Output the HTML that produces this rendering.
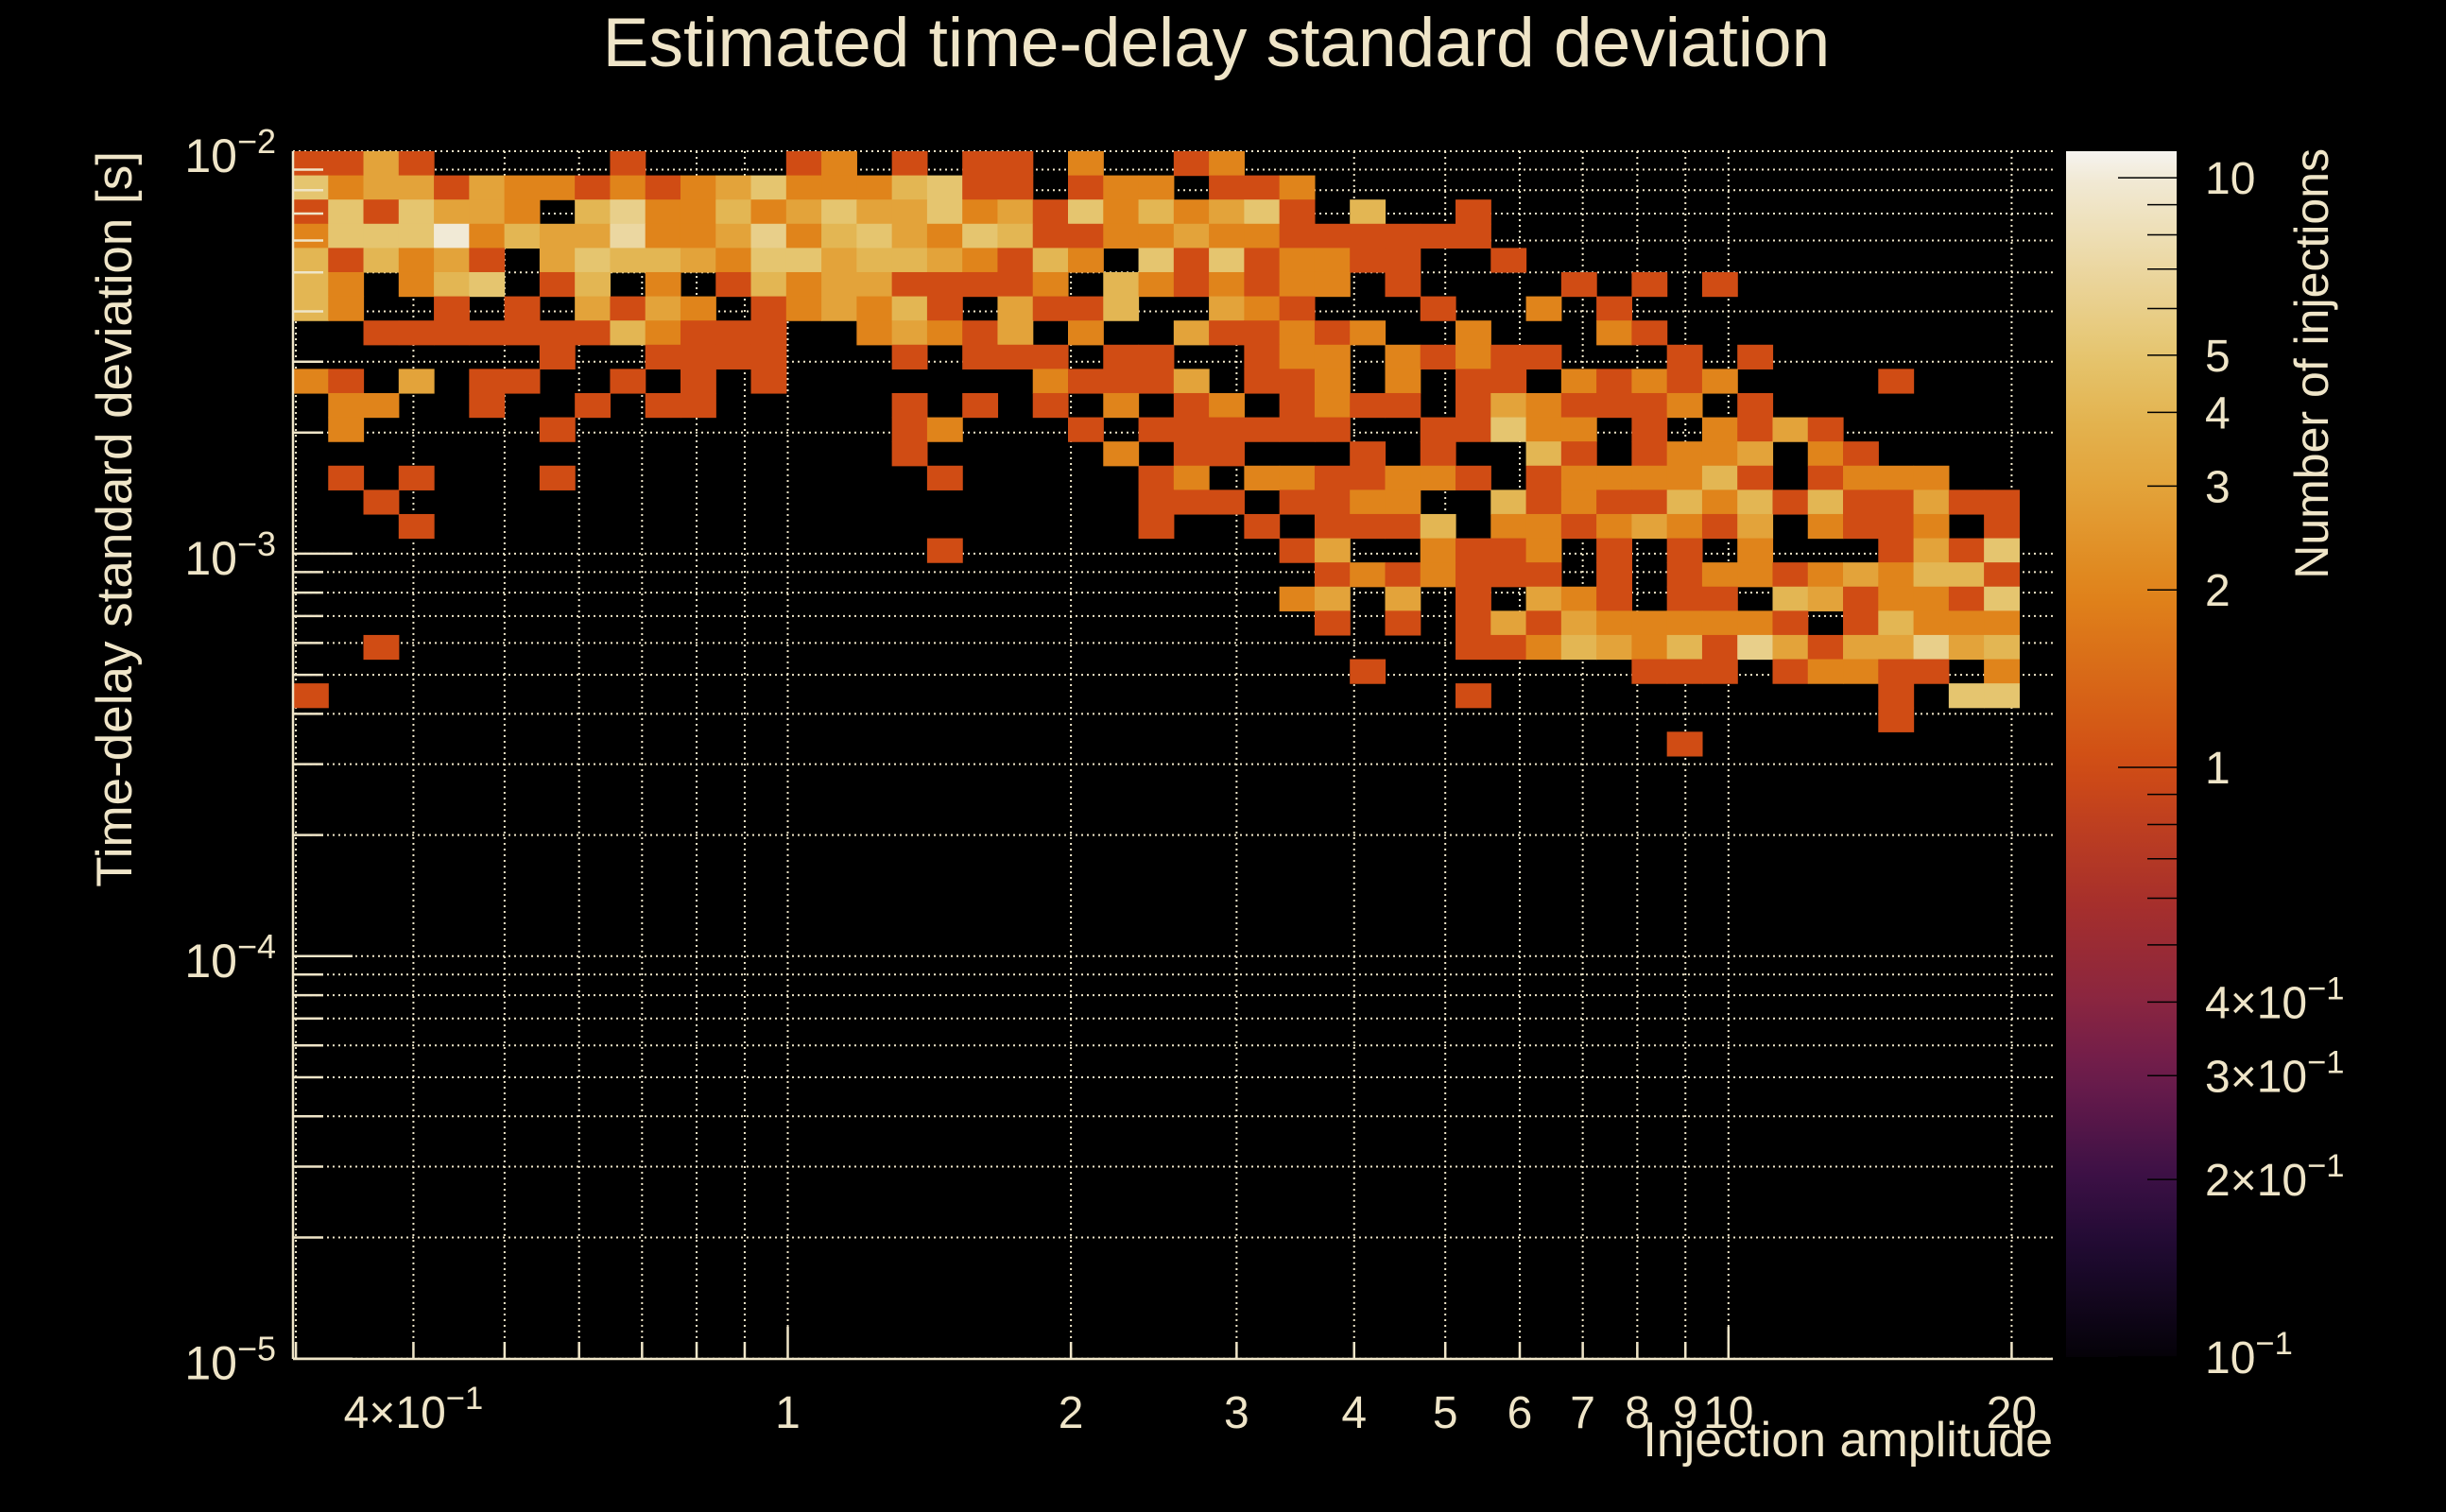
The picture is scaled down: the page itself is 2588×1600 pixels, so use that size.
<!DOCTYPE html>
<html>
<head>
<meta charset="utf-8">
<style>
  html,body{margin:0;padding:0;background:#000;}
  svg{display:block;}
  text{font-family:"Liberation Sans",sans-serif;fill:#efe5c8;}
</style>
</head>
<body>
<svg id="chart" width="2588" height="1600" viewBox="0 0 2588 1600" xmlns="http://www.w3.org/2000/svg">
  <rect x="0" y="0" width="2588" height="1600" fill="#000"/>
  <text x="1287" y="70" font-size="73" text-anchor="middle">Estimated time-delay standard deviation</text>
  <text transform="translate(139,160) rotate(-90)" font-size="53" text-anchor="end">Time-delay standard deviation [s]</text>
  <text x="2172" y="1541" font-size="52" text-anchor="end">Injection amplitude</text>
  <text transform="translate(2463,157) rotate(-90)" font-size="50" text-anchor="end">Number of injections</text>
  <defs>
    <linearGradient id="cbgrad" x1="0" y1="1" x2="0" y2="0"></linearGradient>
  </defs>
  <g id="grid"></g>
  <g id="cells"></g>
  <g id="axes"></g>
  <g id="cbar"></g>
</svg>
<script>
// ---- data ----
// counts per bin: row 0 = top (time-delay std near 1e-2), column 0 = leftmost amplitude bin
// '0' = empty, digits = counts, 'a' = 10
const countRows = [
"1131000001000012010110200120000000000000000000000",
"5233132212123522245110122011200000000000000000000",
"1515332046224235335231524235104001000000000000000",
"2555a243372236245325411223221111110000000000000000".slice(0,49),
"4142310354432553443214205151221100100000000000000",
"4202450140201423311112042121220100001010100000000",
"4200101031320123241031140032100010020100000000000",
"0011111114211100232130200311212002000210000000000",
"0000000100111100010111011001220212110001010000000",
"2103011001010100000002111301120201102121200001000",
"0220010010110000010101020120121101321112010000000",
"0200000100000000012000101111110011522010213100000",
"0000000000000000010000020110001010041012230210000",
"0101000100000000001000001202211221012222410122200",
"0010000000000000000000001110112200412114241411311",
"0001000000000000000000001001011140221232130211201",
"0000000000000000001000000000130021120101020001315",
"0000000000000000000000000000012121110101221232441",
"0000000000000000000000000000230301032101104312215",
"0000000000000000000000000000010101313222221014222",
"0010000000000000000000000000000001124324163133634",
"0000000000000000000000000000001000000011101221102",
"1000000000000000000000000000000001000000000001055",
"0000000000000000000000000000000000000000000001000",
"0000000000000000000000000000000000000001000000000"
];
const xTickValues = [0.4, 1, 2, 3, 4, 5, 6, 7, 8, 9, 10, 20];
const xTickLabels = ["4×10|−1", "1", "2", "3", "4", "5", "6", "7", "8", "9", "10", "20"];
const yTickValues = [1e-2, 1e-3, 1e-4, 1e-5];
const yTickLabels = ["10|−2", "10|−3", "10|−4", "10|−5"];
const cbTickValues = [10, 5, 4, 3, 2, 1, 0.4, 0.3, 0.2, 0.1];
const cbTickLabels = ["10", "5", "4", "3", "2", "1", "4×10|−1", "3×10|−1", "2×10|−1", "10|−1"];
const binXLog0 = -0.526, binXLogStep = 0.03745;   // amplitude bins (log10)
const binYLog0 = -2.0, binYLogStep = 0.0601;      // time-delay bins (log10, downward)

// ---- axes ----
const X0 = 310, X1 = 2172, Y0 = 160, Y1 = 1438;
const xPx = v => 833.5 + 995.3 * Math.log10(v);
const yPx = v => 160 + 425.9 * (-2 - Math.log10(v));
const cbLogMin = -1, cbLogMax = 1.045;
const CB_X = 2186, CB_W = 117, CB_TOP = 160, CB_BOT = 1436;
const cbPx = v => CB_BOT - (Math.log10(v) - cbLogMin) / (cbLogMax - cbLogMin) * (CB_BOT - CB_TOP);

const cmap = [
  [0, [5,2,8]], [0.086,[30,10,48]], [0.147,[58,16,69]], [0.233,[108,28,76]],
  [0.295,[138,37,64]], [0.381,[168,48,42]], [0.442,[190,63,32]], [0.489,[208,76,20]],
  [0.636,[224,132,27]], [0.723,[227,163,58]], [0.784,[227,182,83]], [0.831,[229,197,111]],
  [0.978,[241,234,214]], [1,[246,244,240]]
];
function colorAt(t){
  t = Math.max(0, Math.min(1, t));
  for (let i = 1; i < cmap.length; i++) {
    if (t <= cmap[i][0]) {
      const a = cmap[i-1], b = cmap[i];
      const f = (t - a[0]) / (b[0] - a[0]);
      const c = a[1].map((v, k) => Math.round(v + (b[1][k] - v) * f));
      return `rgb(${c[0]},${c[1]},${c[2]})`;
    }
  }
  return "rgb(246,244,240)";
}
const colorForCount = n => colorAt((Math.log10(n) - cbLogMin) / (cbLogMax - cbLogMin));

const NS = "http://www.w3.org/2000/svg";
function mk(tag, attrs, parent){
  const e = document.createElementNS(NS, tag);
  for (const k in attrs) e.setAttribute(k, attrs[k]);
  parent.appendChild(e);
  return e;
}
function labelText(parent, str, x, y, size, anchor){
  const t = mk("text", {x:x, y:y, "font-size":size, "text-anchor":anchor}, parent);
  const parts = str.split("|");
  t.appendChild(document.createTextNode(parts[0]));
  if (parts[1]) {
    const s = mk("tspan", {dy:-20, "font-size": size*0.72}, t);
    s.textContent = parts[1];
  }
  return t;
}

// grid
const grid = document.getElementById("grid");
const gStyle = {stroke:"#efe5c8", "stroke-width":2, "stroke-dasharray":"2 4"};
for (let k = -1; k <= 1; k++) for (let m = 1; m <= 9; m++) {
  const v = m * Math.pow(10, k);
  const x = xPx(v);
  if (x <= X0 + 2 || x > X1) continue;
  const l = mk("line", Object.assign({x1:x, y1:Y0, x2:x, y2:Y1}, gStyle), grid);
  
  
}
for (let k = -5; k <= -3; k++) for (let m = 1; m <= 9; m++) {
  const v = m * Math.pow(10, k);
  const y = yPx(v);
  const l = mk("line", Object.assign({x1:X0, y1:y, x2:X1, y2:y}, gStyle), grid);
  
  
}
{
  const l = mk("line", Object.assign({x1:X0, y1:yPx(1e-2), x2:X1, y2:yPx(1e-2)}, gStyle), grid);
  
  
}

// cells
const cells = document.getElementById("cells");
countRows.forEach((row, r) => {
  const yTop = yPx(Math.pow(10, binYLog0 - r * binYLogStep));
  const yBot = yPx(Math.pow(10, binYLog0 - (r + 1) * binYLogStep));
  for (let c = 0; c < row.length; c++) {
    const ch = row[c];
    const n = ch === 'a' ? 10 : parseInt(ch, 10);
    if (!n) continue;
    const xL = xPx(Math.pow(10, binXLog0 + c * binXLogStep));
    const xR = xPx(Math.pow(10, binXLog0 + (c + 1) * binXLogStep));
    const rect = mk("rect", {x:xL.toFixed(2), y:yTop.toFixed(2), width:(xR-xL+0.6).toFixed(2), height:(yBot-yTop+0.6).toFixed(2), fill:colorForCount(n)}, cells);
    
    
  }
});

// axes
const axes = document.getElementById("axes");
const aStyle = {stroke:"#efe5c8", "stroke-width":2.5};
{
  const l1 = mk("line", Object.assign({x1:X0, y1:Y0, x2:X0, y2:Y1}, aStyle), axes);
  
  
  const l2 = mk("line", Object.assign({x1:X0, y1:Y1, x2:X1, y2:Y1}, aStyle), axes);
  
  
}
for (let k = -5; k <= -3; k++) for (let m = 1; m <= 9; m++) {
  const y = yPx(m * Math.pow(10, k));
  const t = mk("line", Object.assign({x1:X0, y1:y, x2:X0 + (m === 1 ? 63 : 32), y2:y}, aStyle), axes);
  
  
}
for (let k = -1; k <= 1; k++) for (let m = 1; m <= 9; m++) {
  const v = m * Math.pow(10, k);
  const x = xPx(v);
  if (x <= X0 + 2 || x > X1) continue;
  const t = mk("line", Object.assign({x1:x, y1:Y1, x2:x, y2:Y1 - (m === 1 ? 34 : 18)}, aStyle), axes);
  
  
}
yTickValues.forEach((v, i) => {
  const t = labelText(axes, yTickLabels[i], 292, yPx(v) + 22, 50, "end");
  
  
});
xTickValues.forEach((v, i) => {
  const t = labelText(axes, xTickLabels[i], xPx(v), 1511, 48, "middle");
  
  
});

// colorbar
const grad = document.getElementById("cbgrad");
for (let i = 0; i <= 40; i++) {
  const t = i / 40;
  mk("stop", {offset: t, "stop-color": colorAt(t)}, grad);
}
const cbar = document.getElementById("cbar");
{
  const r = mk("rect", {x:CB_X, y:CB_TOP, width:CB_W, height:CB_BOT-CB_TOP, fill:"url(#cbgrad)"}, cbar);
  
  
}
for (let k = -1; k <= 1; k++) for (let m = 1; m <= 9; m++) {
  const v = m * Math.pow(10, k);
  if (Math.log10(v) > cbLogMax) continue;
  const y = cbPx(v);
  const t = mk("line", {x1:CB_X+CB_W, y1:y, x2:CB_X+CB_W-(m===1?62:31), y2:y, stroke:"#000", "stroke-width":1.5}, cbar);
  
  
}
cbTickValues.forEach((v, i) => {
  const t = labelText(cbar, cbTickLabels[i], 2333, cbPx(v) + 17, 48, "start");
  
  
});
</script>
</body>
</html>
